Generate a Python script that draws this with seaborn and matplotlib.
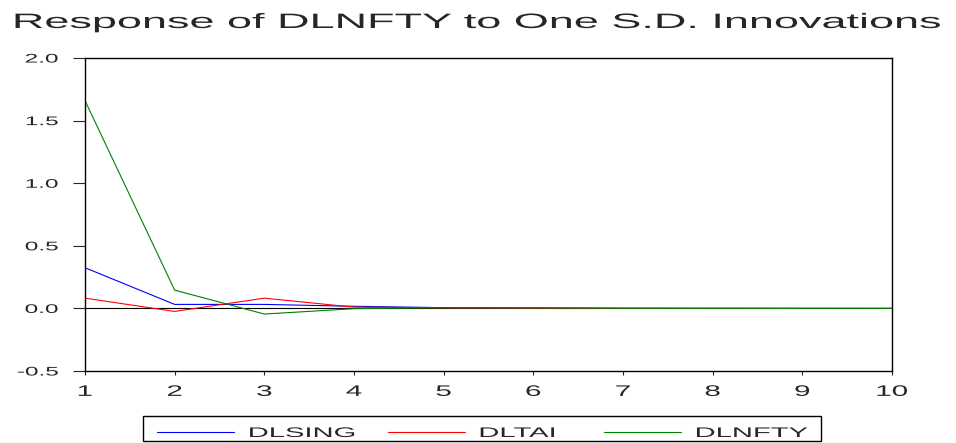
import numpy as np
import pandas as pd
import seaborn as sns
import matplotlib.pyplot as plt
from matplotlib.patches import Rectangle
from matplotlib.patheffects import AbstractPathEffect
from matplotlib.transforms import Affine2D

# impulse response of DLNFTY, periods 1..10
periods = [1, 2, 3, 4, 5, 6, 7, 8, 9, 10]
dlsing = [0.325, 0.032, 0.032, 0.017, 0.006, 0.003, 0.001, 0.0005, 0.0002, 0.0001]
dltai = [0.082, -0.024, 0.082, 0.010, 0.004, 0.002, 0.001, 0.0004, 0.0002, 0.0001]
dlnfty = [1.66, 0.146, -0.045, -0.002, 0.005, 0.004, 0.001, 0.0004, 0.0002, 0.0001]

series_names = ['DLSING', 'DLTAI', 'DLNFTY']
colors = ['#0000ff', '#ff0000', '#008000']
ytick_vals = [-0.5, 0.0, 0.5, 1.0, 1.5, 2.0]
ytick_labels = ['-0.5', '0.0', '0.5', '1.0', '1.5', '2.0']
title = 'Response of DLNFTY to One S.D. Innovations'


class StretchX(AbstractPathEffect):
    # the original output uses a horizontally stretched font, widen the glyphs
    def __init__(self, sx, anchor='center'):
        super().__init__()
        self.sx = sx
        self.anchor = anchor

    def draw_path(self, renderer, gc, tpath, affine, rgbFace=None):
        ext = tpath.get_extents(affine)
        if self.anchor == 'left':
            cx = ext.x0
        elif self.anchor == 'right':
            cx = ext.x1
        else:
            cx = (ext.x0 + ext.x1) / 2
        t = affine + Affine2D().translate(-cx, 0).scale(self.sx, 1).translate(cx, 0)
        renderer.draw_path(gc, tpath, t, rgbFace)


df = pd.DataFrame({'period': periods * 3,
                   'response': dlsing + dltai + dlnfty,
                   'series': np.repeat(series_names, len(periods))})

sns.set_style('white')
plt.rcParams['font.family'] = ['Liberation Sans', 'DejaVu Sans']

fig = plt.figure(figsize=(9.56, 4.43), dpi=100)
ax = fig.add_axes([0.0889, 0.1625, 0.8441, 0.7065])

sns.lineplot(data=df, x='period', y='response', hue='series', hue_order=series_names,
             palette=colors, linewidth=0.8, ax=ax)
ax.axhline(0, color='black', linewidth=0.8, zorder=0)

ax.set_xlim(1, 10)
ax.set_ylim(-0.5, 2.0)
ax.set_xticks(periods)
ax.set_yticks(ytick_vals)
ax.set_yticklabels(ytick_labels)
ax.set_xlabel('')
ax.set_ylabel('')
ax.tick_params(axis='y', direction='out', length=8.6, width=0.8, labelsize=9, pad=10.8, left=True)
ax.tick_params(axis='x', direction='out', length=3, width=0.8, labelsize=11, pad=7, bottom=True)
for lab in ax.get_yticklabels():
    lab.set_path_effects([StretchX(1.95, 'right')])
for lab in ax.get_xticklabels():
    lab.set_path_effects([StretchX(1.94, 'center')])
for s in ax.spines.values():
    s.set_color('black')
    s.set_linewidth(1.0)

t = fig.text(0.5, 1 - 28 / 443, title, fontsize=15, ha='center', va='baseline')
t.set_path_effects([StretchX(2.16, 'center')])

leg = ax.legend(loc='lower left', bbox_to_anchor=(157 / 956, 0.0068), bbox_transform=fig.transFigure,
                ncol=3, fontsize=10, frameon=False, handlelength=5.54, handletextpad=1.08,
                columnspacing=6.26, borderpad=0, borderaxespad=0)
for txt in leg.get_texts():
    txt.set_path_effects([StretchX(2.1, 'left')])
for h in leg.get_lines():
    h.set_linewidth(0.8)

# legend frame, drawn separately since the stretched labels are wider than the legend box
fig.patches.append(Rectangle((143 / 956, 1 - 441 / 443), 678 / 956, 25 / 443,
                             transform=fig.transFigure, fill=False, edgecolor='black',
                             linewidth=1.0))

fig.savefig('out.png', dpi=100)
